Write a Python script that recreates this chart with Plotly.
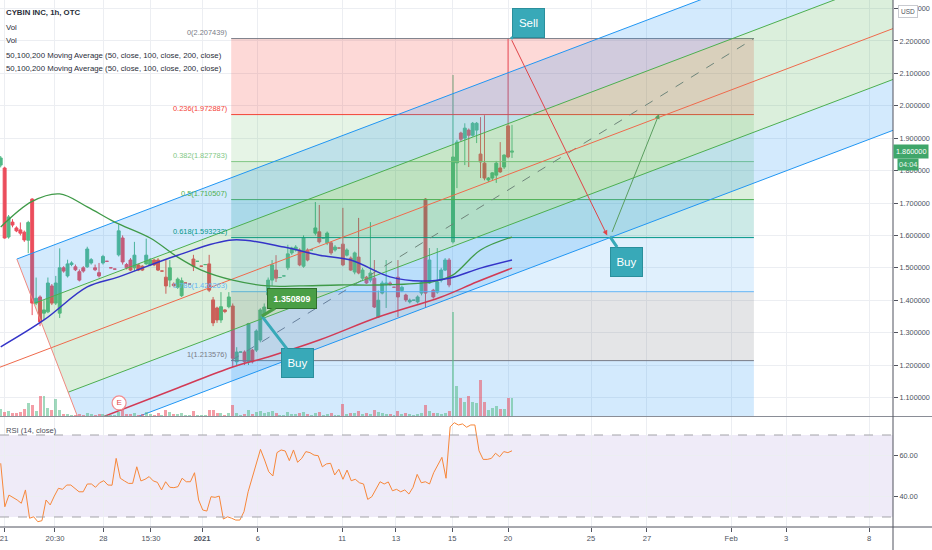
import numpy as np
import plotly.graph_objects as go

# ---- candles (1h bars, x = bar number on screen) ----
bar_open = [1.817, 1.808, 1.595, 1.641, 1.623, 1.617, 1.610, 1.585, 1.712, 1.391,
            1.410, 1.360, 1.364, 1.444, 1.391, 1.360, 1.500, 1.475, 1.510, 1.503,
            1.488, 1.500, 1.503, 1.515, 1.500, 1.485, 1.515, 1.520, 1.500, 1.496,
            1.540, 1.592, 1.510, 1.524, 1.500, 1.509, 1.505, 1.512, 1.509, 1.524,
            1.524, 1.490, 1.471, 1.462, 1.450, 1.440, 1.414, 1.453, 1.450, 1.527,
            1.520, 1.505, 1.510, 1.512, 1.401, 1.376, 1.339, 1.370, 1.380, 1.382,
            1.210, 1.240, 1.240, 1.210, 1.246, 1.246, 1.277, 1.354, 1.416, 1.462,
            1.493, 1.470, 1.475, 1.500, 1.546, 1.555, 1.555, 1.505, 1.555, 1.555,
            1.607, 1.611, 1.592, 1.577, 1.577, 1.555, 1.561, 1.573, 1.539, 1.530,
            1.487, 1.533, 1.468, 1.471, 1.462, 1.468, 1.348, 1.422, 1.448, 1.453,
            1.440, 1.471, 1.430, 1.416, 1.395, 1.400, 1.395, 1.422, 1.712, 1.453,
            1.431, 1.425, 1.462, 1.493, 1.524, 1.580, 1.824, 1.916, 1.900, 1.925,
            1.909, 1.925, 1.851, 1.823, 1.771, 1.777, 1.786, 1.808, 1.811, 1.938,
            1.857]
bar_high = [1.845, 1.812, 1.663, 1.650, 1.628, 1.640, 1.615, 1.645, 1.715, 1.470,
            1.415, 1.400, 1.470, 1.450, 1.475, 1.560, 1.505, 1.525, 1.520, 1.510,
            1.495, 1.505, 1.565, 1.530, 1.510, 1.515, 1.540, 1.520, 1.500, 1.496,
            1.634, 1.600, 1.515, 1.530, 1.580, 1.512, 1.508, 1.590, 1.530, 1.528,
            1.530, 1.490, 1.524, 1.524, 1.455, 1.470, 1.470, 1.453, 1.450, 1.540,
            1.520, 1.505, 1.510, 1.540, 1.410, 1.380, 1.425, 1.372, 1.425, 1.390,
            1.255, 1.240, 1.245, 1.330, 1.250, 1.310, 1.375, 1.390, 1.470, 1.524,
            1.539, 1.470, 1.475, 1.571, 1.565, 1.570, 1.560, 1.600, 1.560, 1.555,
            1.703, 1.694, 1.592, 1.612, 1.580, 1.570, 1.561, 1.685, 1.560, 1.535,
            1.550, 1.654, 1.500, 1.475, 1.641, 1.524, 1.430, 1.460, 1.524, 1.458,
            1.440, 1.524, 1.445, 1.420, 1.405, 1.400, 1.415, 1.460, 1.715, 1.561,
            1.435, 1.561, 1.500, 1.530, 1.530, 2.095, 1.895, 1.920, 1.946, 1.930,
            1.950, 1.950, 1.965, 1.971, 1.780, 1.795, 1.830, 1.888, 1.850, 2.207,
            1.941]
bar_low = [1.810, 1.590, 1.590, 1.625, 1.610, 1.600, 1.580, 1.545, 1.354, 1.385,
           1.320, 1.340, 1.360, 1.385, 1.385, 1.345, 1.485, 1.470, 1.505, 1.490,
           1.458, 1.485, 1.500, 1.510, 1.490, 1.470, 1.510, 1.520, 1.500, 1.496,
           1.535, 1.510, 1.495, 1.490, 1.490, 1.490, 1.490, 1.510, 1.505, 1.505,
           1.490, 1.490, 1.420, 1.440, 1.440, 1.435, 1.410, 1.453, 1.450, 1.490,
           1.520, 1.505, 1.510, 1.425, 1.320, 1.330, 1.330, 1.360, 1.375, 1.194,
           1.200, 1.240, 1.200, 1.200, 1.205, 1.240, 1.270, 1.350, 1.410, 1.444,
           1.456, 1.470, 1.475, 1.493, 1.540, 1.550, 1.505, 1.500, 1.520, 1.555,
           1.600, 1.575, 1.592, 1.570, 1.540, 1.550, 1.561, 1.505, 1.535, 1.490,
           1.480, 1.480, 1.460, 1.450, 1.455, 1.376, 1.345, 1.418, 1.376, 1.445,
           1.440, 1.348, 1.425, 1.395, 1.390, 1.400, 1.390, 1.415, 1.376, 1.450,
           1.405, 1.420, 1.455, 1.490, 1.440, 1.575, 1.746, 1.890, 1.817, 1.811,
           1.905, 1.885, 1.777, 1.770, 1.765, 1.770, 1.762, 1.793, 1.805, 1.838,
           1.839]
bar_close = [1.839, 1.592, 1.657, 1.632, 1.614, 1.607, 1.586, 1.640, 1.391, 1.406,
             1.333, 1.370, 1.453, 1.391, 1.453, 1.500, 1.490, 1.512, 1.515, 1.494,
             1.462, 1.490, 1.558, 1.525, 1.494, 1.475, 1.535, 1.520, 1.500, 1.496,
             1.614, 1.518, 1.500, 1.493, 1.539, 1.493, 1.493, 1.539, 1.524, 1.509,
             1.493, 1.490, 1.444, 1.500, 1.445, 1.465, 1.460, 1.453, 1.450, 1.505,
             1.520, 1.505, 1.510, 1.431, 1.330, 1.339, 1.380, 1.365, 1.410, 1.221,
             1.240, 1.240, 1.210, 1.328, 1.210, 1.305, 1.370, 1.379, 1.462, 1.509,
             1.468, 1.470, 1.475, 1.543, 1.561, 1.564, 1.509, 1.592, 1.524, 1.555,
             1.623, 1.580, 1.592, 1.607, 1.546, 1.564, 1.561, 1.509, 1.555, 1.493,
             1.546, 1.484, 1.493, 1.453, 1.484, 1.379, 1.400, 1.453, 1.453, 1.448,
             1.440, 1.410, 1.440, 1.401, 1.400, 1.400, 1.410, 1.456, 1.422, 1.524,
             1.410, 1.456, 1.493, 1.524, 1.447, 1.842, 1.888, 1.897, 1.931, 1.909,
             1.946, 1.946, 1.827, 1.777, 1.777, 1.793, 1.823, 1.796, 1.848, 1.842,
             1.860]
# volume in thousands of shares
volume_k = [7, 4, 5, 3, 3, 4, 7, 13, 11, 5, 20, 20, 8, 6, 17, 6, 2, 2, 1, 1,
            2, 1, 3, 2, 1, 2, 2, 1, 1, 1, 4, 6, 2, 2, 3, 1, 2, 4, 2, 1,
            3, 1, 6, 4, 2, 2, 3, 1, 1, 5, 1, 1, 1, 6, 6, 3, 3, 1, 3, 11,
            3, 1, 2, 6, 2, 4, 5, 3, 4, 5, 3, 1, 1, 4, 2, 2, 3, 4, 2, 1,
            3, 4, 1, 2, 3, 1, 1, 12, 2, 3, 3, 5, 2, 3, 2, 6, 4, 3, 2, 2,
            1, 5, 2, 3, 2, 1, 2, 3, 11, 5, 3, 3, 2, 3, 5, 104, 30, 18, 14, 20,
            14, 13, 36, 14, 6, 8, 10, 7, 7, 18, 18]

# RSI (14, close), one reading per bar from left to right
rsi_vals = [56.2, 35.0, 40.7, 39.6, 38.3, 36.7, 43.2, 29.4, 30.1, 27.7,
            28.2, 38.3, 35.9, 40.2, 44.0, 43.5, 45.6, 45.6, 44.0, 42.3,
            42.3, 46.1, 46.1, 44.5, 46.7, 47.7, 45.6, 45.5, 58.6, 48.9,
            47.6, 46.4, 46.4, 54.5, 47.6, 48.4, 49.7, 47.6, 46.9, 43.2,
            47.2, 44.5, 44.3, 44.8, 48.9, 47.2, 47.2, 51.6, 38.3, 33.4,
            32.9, 39.9, 39.6, 40.2, 29.0, 30.1, 29.4, 28.5, 28.5, 32.6,
            42.3, 48.9, 56.2, 63.0, 57.8, 52.1, 50.0, 61.4, 62.7, 62.2,
            57.5, 62.7, 56.7, 58.6, 61.9, 61.4, 60.2, 59.9, 54.5, 55.9,
            56.2, 50.5, 53.3, 48.4, 52.9, 47.7, 48.4, 46.7, 46.1, 38.6,
            39.9, 43.5, 47.2, 46.1, 47.1, 42.8, 43.5, 42.3, 43.2, 41.2,
            44.5, 50.8, 46.7, 47.2, 46.1, 51.6, 55.4, 59.1, 48.9, 74.0,
            76.0, 74.9, 75.4, 73.8, 74.9, 74.9, 62.3, 58.1, 58.1, 58.6,
            61.1, 59.4, 61.9, 61.4, 62.3]

# moving averages
ma50_bar = [0, 8, 15, 22, 29, 38, 45, 51, 59, 68, 76, 86, 96, 107, 111, 115, 122, 130]
ma50_val = [1.626, 1.705, 1.728, 1.688, 1.641, 1.592, 1.533, 1.493, 1.462, 1.444,
            1.444, 1.447, 1.447, 1.453, 1.460, 1.478, 1.555, 1.595]
ma100_bar = [0, 11, 22, 30, 45, 59, 72, 81, 89, 99, 107, 114, 122, 130]
ma100_val = [1.256, 1.339, 1.441, 1.472, 1.539, 1.586, 1.564, 1.539, 1.524, 1.472,
             1.459, 1.468, 1.499, 1.524]
ma200_bar = [26, 45, 59, 68, 81, 96, 112, 121, 130]
ma200_val = [1.040, 1.129, 1.194, 1.225, 1.277, 1.348, 1.410, 1.456, 1.499]

# time axis labels
tick_bars = [0.84, 13.8, 26.1, 38.2, 51.2, 65.4, 86.8, 100.5, 114.8, 129.0,
             150.1, 164.3, 185.7, 199.7, 220.8]
tick_text = ["21", "20:30", "28", "15:30", "<b>2021</b>", "6", "11", "13", "15", "20",
             "25", "27", "Feb", "3", "8"]

# fib retracement
fib_levels = [0, 0.236, 0.382, 0.5, 0.618, 0.786, 1, 1.618]
fib_colors = ["#787b86", "#f44336", "#81c784", "#4caf50", "#009688", "#64b5f6",
              "#787b86", "#2196f3"]
fib_price_0 = 2.207439
fib_price_1 = 1.213576
fib_bar_start = 58.6
fib_bar_end = 191.5

# pitchfork anchors (bar, price)
pf_p1 = (-30.0, 1.056)
pf_p2 = (4.1, 1.527)
pf_p3 = (21.5, 0.979)

# trade idea points (bar, price)
sell_pt = (129.75, 2.207)
buy_left_pt = (66.4, 1.350809)
buy_right_pt = (154.9, 1.596)
arrow_down_end = (154.2, 1.600)
arrow_up_start = (155.3, 1.606)
arrow_up_end = (167.4, 1.975)
earnings_pt = (30.1, 1.083)

last_price = 1.860000

UP = "#53b987"
DOWN = "#eb4d5c"
FONT = "Liberation Sans, Arial, sans-serif"
GRID = "#eceef2"
AXIS = "#50535e"
LABEL = "#4c525e"

X_RANGE = [-0.18, 226.87]
PRICE_RANGE = [1.0426, 2.3265]
RSI_RANGE = [25.12, 78.78]


def rgba(hex_color, a):
    h = hex_color.lstrip("#")
    return "rgba(%d,%d,%d,%s)" % (int(h[0:2], 16), int(h[2:4], 16), int(h[4:6], 16), a)


fig = go.Figure()

# ---- fib retracement fills and lines ----
fib_prices = [fib_price_0 + lv * (fib_price_1 - fib_price_0) for lv in fib_levels]
for k in range(1, len(fib_levels)):
    fig.add_trace(go.Scatter(
        x=[fib_bar_start, fib_bar_end, fib_bar_end, fib_bar_start, fib_bar_start],
        y=[fib_prices[k - 1], fib_prices[k - 1], fib_prices[k], fib_prices[k], fib_prices[k - 1]],
        mode="lines", fill="toself", fillcolor=rgba(fib_colors[k], 0.2),
        line=dict(width=0), hoverinfo="skip", showlegend=False))
for k, lv in enumerate(fib_levels):
    fig.add_trace(go.Scatter(
        x=[fib_bar_start, fib_bar_end], y=[fib_prices[k], fib_prices[k]],
        mode="lines", line=dict(color=fib_colors[k], width=1),
        hoverinfo="skip", showlegend=False))
# fib trend line
fig.add_trace(go.Scatter(
    x=[fib_bar_start, fib_bar_end], y=[fib_price_1, fib_price_0], mode="lines",
    line=dict(color="#787b86", width=1, dash="dash"), hoverinfo="skip", showlegend=False))

# ---- pitchfork ----
mid = ((pf_p2[0] + pf_p3[0]) / 2, (pf_p2[1] + pf_p3[1]) / 2)
pf_slope = (mid[1] - pf_p1[1]) / (mid[0] - pf_p1[0])
x_far = 245


def pf_start(k, pt):
    return (mid[0] + k * (pt[0] - mid[0]), mid[1] + k * (pt[1] - mid[1]))


def pf_end(s):
    return (x_far, s[1] + pf_slope * (x_far - s[0]))


u1, u05 = pf_start(1, pf_p2), pf_start(0.5, pf_p2)
l1, l05 = pf_start(1, pf_p3), pf_start(0.5, pf_p3)
pf_fills = [(u1, u05, "#2196f3"), (u05, l05, "#4caf50"), (l05, l1, "#2196f3")]
for a, b, col in pf_fills:
    ea, eb = pf_end(a), pf_end(b)
    fig.add_trace(go.Scatter(
        x=[a[0], ea[0], eb[0], b[0], a[0]], y=[a[1], ea[1], eb[1], b[1], a[1]],
        mode="lines", fill="toself", fillcolor=rgba(col, 0.2), line=dict(width=0),
        hoverinfo="skip", showlegend=False))
for s, col in [(u1, "#2196f3"), (u05, "#4caf50"), (l05, "#4caf50"), (l1, "#2196f3")]:
    e = pf_end(s)
    fig.add_trace(go.Scatter(x=[s[0], e[0]], y=[s[1], e[1]], mode="lines",
                             line=dict(color=col, width=1), hoverinfo="skip", showlegend=False))
med_end = pf_end(pf_p1)
fig.add_trace(go.Scatter(x=[pf_p1[0], med_end[0]], y=[pf_p1[1], med_end[1]], mode="lines",
                         line=dict(color="#ef6a4c", width=1), hoverinfo="skip", showlegend=False))
fig.add_trace(go.Scatter(x=[pf_p2[0], pf_p3[0]], y=[pf_p2[1], pf_p3[1]], mode="lines",
                         line=dict(color="#f08a80", width=1), hoverinfo="skip", showlegend=False))

# ---- price ----
bars = np.arange(len(bar_open))
fig.add_trace(go.Candlestick(
    x=bars, open=bar_open, high=bar_high, low=bar_low, close=bar_close,
    increasing=dict(line=dict(color=UP, width=1), fillcolor=UP),
    decreasing=dict(line=dict(color=DOWN, width=1), fillcolor=DOWN),
    whiskerwidth=0, hoverinfo="skip", showlegend=False))

fig.add_trace(go.Scatter(x=ma50_bar, y=ma50_val, mode="lines", line=dict(color="#3f9a48", width=1.3, shape="spline"),
                         hoverinfo="skip", showlegend=False))
fig.add_trace(go.Scatter(x=ma100_bar, y=ma100_val, mode="lines", line=dict(color="#3434c8", width=1.5, shape="spline"),
                         hoverinfo="skip", showlegend=False))
fig.add_trace(go.Scatter(x=ma200_bar, y=ma200_val, mode="lines", line=dict(color="#d23a55", width=1.5, shape="spline"),
                         hoverinfo="skip", showlegend=False))

# earnings marker
fig.add_trace(go.Scatter(
    x=[earnings_pt[0]], y=[earnings_pt[1]], mode="markers+text", text=["E"],
    textposition="middle center", textfont=dict(color="#e0474c", size=8, family=FONT),
    marker=dict(size=14, color="white", line=dict(color="#f28d90", width=1.2)),
    hoverinfo="skip", showlegend=False))

# volume overlay
vol_colors = [rgba(UP, 0.55) if c >= o else rgba(DOWN, 0.55) for o, c in zip(bar_open, bar_close)]
fig.add_trace(go.Bar(x=bars, y=volume_k, marker=dict(color=vol_colors, line=dict(width=0)),
                     width=0.75, yaxis="y3", hoverinfo="skip", showlegend=False))

# ---- RSI ----
rsi_x = np.linspace(0, len(bar_open) - 1, len(rsi_vals))
fig.add_trace(go.Scatter(x=rsi_x, y=rsi_vals, mode="lines", line=dict(color="#f7873a", width=1),
                         xaxis="x2", yaxis="y2", hoverinfo="skip", showlegend=False))

shapes = [
    dict(type="rect", xref="x2", yref="y2", x0=X_RANGE[0], x1=X_RANGE[1], y0=30, y1=70,
         fillcolor="rgba(126,87,194,0.12)", line=dict(width=0), layer="below"),
    dict(type="line", xref="x2", yref="y2", x0=X_RANGE[0], x1=X_RANGE[1], y0=70, y1=70,
         line=dict(color="#a3a3a8", width=1, dash="dash")),
    dict(type="line", xref="x2", yref="y2", x0=X_RANGE[0], x1=X_RANGE[1], y0=30, y1=30,
         line=dict(color="#a3a3a8", width=1, dash="dash")),
    # pane separator and axis borders
    dict(type="line", xref="paper", yref="paper", x0=0, x1=1.05, y0=0.2097, y1=0.2097,
         line=dict(color="#8a8d96", width=1.2)),
    dict(type="line", xref="paper", yref="paper", x0=1, x1=1, y0=-0.05, y1=1,
         line=dict(color=AXIS, width=1)),
    dict(type="line", xref="paper", yref="paper", x0=0, x1=1.05, y0=0, y1=0,
         line=dict(color=AXIS, width=1)),
]

annotations = []
# header texts
header = [("CYBIN INC, 1h, OTC", True), ("Vol", False), ("Vol", False),
          ("50,100,200 Moving Average (50, close, 100, close, 200, close)", False),
          ("50,100,200 Moving Average (50, close, 100, close, 200, close)", False)]
for n, (txt, bold) in enumerate(header):
    annotations.append(dict(xref="paper", yref="paper", x=0.004, y=1 - (13 + 14 * n) / 527,
                            xanchor="left", yanchor="middle", showarrow=False,
                            text="<b>%s</b>" % txt if bold else txt,
                            font=dict(family=FONT, size=7.8, color="#2a2e39")))
annotations.append(dict(xref="paper", yref="paper", x=0.004, y=1 - 430 / 527, xanchor="left",
                        yanchor="middle", showarrow=False, text="RSI (14, close)",
                        font=dict(family=FONT, size=7.6, color="#4a4e59")))

# fib labels
for k, lv in enumerate(fib_levels[:-1]):
    annotations.append(dict(x=fib_bar_start, y=fib_prices[k], xanchor="right", yanchor="bottom",
                            xshift=-2, yshift=0, showarrow=False,
                            text="%g(%.6f)" % (lv, fib_prices[k]),
                            font=dict(family=FONT, size=7.4, color=fib_colors[k])))

# trade arrows
annotations.append(dict(x=arrow_down_end[0], y=arrow_down_end[1], ax=sell_pt[0], ay=sell_pt[1],
                        axref="x", ayref="y", showarrow=True, arrowhead=2, arrowsize=1,
                        arrowwidth=1, arrowcolor="#e04448", text=""))
annotations.append(dict(x=arrow_up_end[0], y=arrow_up_end[1], ax=arrow_up_start[0], ay=arrow_up_start[1],
                        axref="x", ayref="y", showarrow=True, arrowhead=2, arrowsize=1,
                        arrowwidth=1, arrowcolor="#5a9e5f", text=""))

# callouts
TEAL = "#38a9b8"
for pt, txt, dx, dy in [(sell_pt, "Sell", 17, -16), (buy_left_pt, "Buy", 36, 47),
                        (buy_right_pt, "Buy", 17, 25)]:
    annotations.append(dict(x=pt[0], y=pt[1], ax=dx, ay=dy, text=txt, showarrow=True,
                            arrowhead=0, arrowwidth=3, arrowcolor=TEAL, standoff=0,
                            bgcolor=TEAL, bordercolor="#2a8f9c", borderwidth=1, borderpad=3,
                            width=25, height=22, font=dict(family=FONT, size=11.5, color="white")))
annotations.append(dict(x=buy_left_pt[0], y=buy_left_pt[1], ax=30, ay=-18,
                        text="<b>%.6f</b>" % buy_left_pt[1], showarrow=True, arrowhead=0,
                        arrowwidth=3, arrowcolor="#4a9f46", standoff=0, bgcolor="#4a9f46",
                        bordercolor="#2f6e2c", borderwidth=1, borderpad=3, width=42, height=13,
                        font=dict(family=FONT, size=8.8, color="white")))

# right side labels
annotations.append(dict(xref="paper", x=1.0, y=last_price, xanchor="left", yanchor="middle",
                        showarrow=False, text="1.860000", bgcolor="#3fa66a", borderpad=2,
                        font=dict(family=FONT, size=7.3, color="white")))
annotations.append(dict(xref="paper", x=1.005, y=last_price, yshift=-13, xanchor="left",
                        yanchor="middle", showarrow=False, text="04:04", bgcolor="#3fa66a",
                        borderpad=1, font=dict(family=FONT, size=7.3, color="#e8f5ea")))
annotations.append(dict(xref="paper", yref="paper", x=1.006, y=1 - 11 / 527, xanchor="left",
                        yanchor="middle", showarrow=False, text="USD", bgcolor="white",
                        bordercolor="#c8cad0", borderwidth=1, borderpad=2,
                        font=dict(family=FONT, size=6.5, color="#50535e")))

fig.update_layout(
    width=932, height=550,
    margin=dict(l=0, r=39, t=0, b=23, autoexpand=False),
    paper_bgcolor="white", plot_bgcolor="white",
    showlegend=False, bargap=0, boxgap=0.22, boxgroupgap=0.05,
    xaxis=dict(domain=[0, 1], anchor="y", range=X_RANGE, tickvals=tick_bars, showticklabels=False,
               showgrid=True, gridcolor=GRID, zeroline=False, rangeslider=dict(visible=False),
               automargin=False),
    xaxis2=dict(domain=[0, 1], anchor="y2", matches="x", range=X_RANGE, tickvals=tick_bars,
                ticktext=tick_text, showgrid=True, gridcolor=GRID, zeroline=False,
                ticks="outside", ticklen=4, tickcolor=AXIS, automargin=False,
                ticklabeloverflow="allow",
                tickfont=dict(family=FONT, size=7.6, color=LABEL)),
    yaxis=dict(domain=[0.2106, 1], anchor="x", side="right", range=PRICE_RANGE, dtick=0.1, tick0=0,
               tickformat=".6f", showgrid=True, gridcolor=GRID, zeroline=False,
               ticks="outside", ticklen=4, tickcolor=AXIS, automargin=False,
               ticklabeloverflow="allow",
               tickfont=dict(family=FONT, size=7.3, color=LABEL)),
    yaxis2=dict(domain=[0, 0.2087], anchor="x2", side="right", range=RSI_RANGE,
                tickvals=[40, 60], ticktext=["40.00", "60.00"], showgrid=True, gridcolor=GRID,
                zeroline=False, ticks="outside", ticklen=4, tickcolor=AXIS, automargin=False,
                ticklabeloverflow="allow",
                tickfont=dict(family=FONT, size=7.3, color=LABEL)),
    yaxis3=dict(domain=[0.2106, 1], overlaying="y", anchor="x", range=[0, 416], visible=False),
    shapes=shapes,
    annotations=annotations,
)

# the page body has a default margin; drop it so the chart sits at the window's corner
fig.write_html("out.html", config={"displayModeBar": False},
               post_script="document.body.style.margin='0';")
